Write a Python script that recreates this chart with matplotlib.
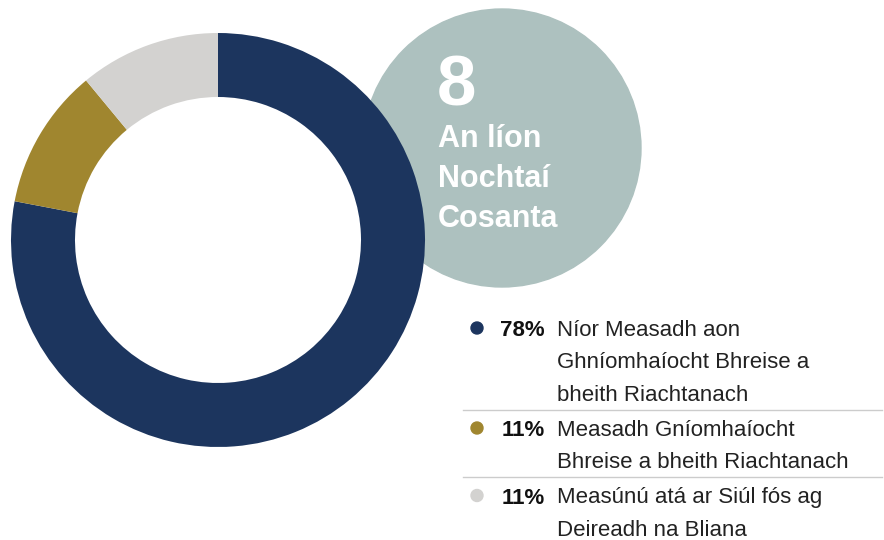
import matplotlib.pyplot as plt
from matplotlib.patches import Circle

plt.rcParams['font.family'] = ['Liberation Sans', 'DejaVu Sans']

# data
values = [78, 11, 11]
colors = ['#1c355e', '#a0862f', '#d3d2d0']
pct_labels = ['78%', '11%', '11%']
labels = [
    'Níor Measadh aon\nGhníomhaíocht Bhreise a\nbheith Riachtanach',
    'Measadh Gníomhaíocht\nBhreise a bheith Riachtanach',
    'Measúnú atá ar Siúl fós ag\nDeireadh na Bliana',
]
total = 8
total_label = ['An líon', 'Nochtaí', 'Cosanta']

W, H = 884, 540
fig = plt.figure(figsize=(W / 100, H / 100), dpi=100)
ax = fig.add_axes([0, 0, 1, 1])

# grey bubble behind the donut
ax.add_patch(Circle((502, H - 148), 139, color='#adc1bf', zorder=0))

ax.pie(values, colors=colors, center=(218, H - 240), radius=207,
       startangle=90, counterclock=False,
       wedgeprops=dict(width=64, linewidth=0))

# number + caption in the bubble
ax.text(437, H - 105, str(total), color='white', fontsize=51,
        fontweight='bold', va='baseline', ha='left')
for i, line in enumerate(total_label):
    ax.text(438, H - (147 + i * 40), line, color='white', fontsize=22,
            fontweight='bold', va='baseline', ha='left')

# legend
y = 328
step = 32.5
for k, (pct, lab, col) in enumerate(zip(pct_labels, labels, colors)):
    lines = lab.split('\n')
    ax.add_patch(Circle((477, H - y), 6, color=col))
    ax.text(545, H - y - 8, pct, fontsize=16, fontweight='bold',
            color='#111111', ha='right', va='baseline')
    for i, line in enumerate(lines):
        ax.text(557, H - (y + i * step) - 8, line, fontsize=16,
                color='#222222', ha='left', va='baseline')
    last = y + (len(lines) - 1) * step
    if k < len(labels) - 1:
        ax.plot([463, 882], [H - (last + 16.5)] * 2, color='#cccccc', lw=1)
    y = last + 35

ax.set_xlim(0, W)
ax.set_ylim(0, H)
ax.set_aspect('equal')
ax.axis('off')

fig.savefig('out.png', dpi=100)
